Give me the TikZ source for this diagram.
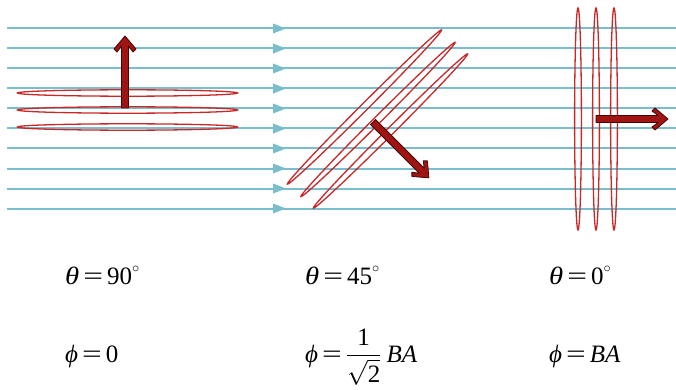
\documentclass[tikz,border=0pt]{standalone}
\usepackage{amsmath}
\usepackage{graphicx}
\usepackage{fontspec}
\setmainfont{Liberation Serif}
\definecolor{fieldblue}{RGB}{122,190,206}
\definecolor{loopred}{RGB}{200,40,40}
\definecolor{arrowred}{RGB}{160,20,20}
\definecolor{arrowedge}{RGB}{70,5,5}
\newcommand{\eqsg}{\hspace{4pt}\scalebox{1.4}[1]{=}\hspace{4pt}}
\newcommand{\degr}{\raisebox{0.45em}{\fontsize{14}{14}\selectfont$\circ$}}
\newcommand{\thet}{\scalebox{1.15}[1]{\textit{θ}}}
\newcommand{\phis}{\textit{ϕ}}
\tikzset{
  fieldline/.style={draw=fieldblue, line width=2pt},
  fieldtip/.style={fill=fieldblue, draw=none},
  loop/.style={draw=loopred, line width=1.3pt},
  eqn/.style={anchor=base west, inner sep=0pt, font=\fontsize{25}{28}\selectfont},
  barrow/.pic={
    \filldraw[fill=arrowred, draw=arrowedge, line width=0.8pt, line join=round]
      (0,-3.5) -- (#1-10,-3.5) -- (#1-16,-8) -- (#1-13,-11) -- (#1,0)
      -- (#1-13,11) -- (#1-16,8) -- (#1-10,3.5) -- (0,3.5) -- cycle;
  }
}
\begin{document}
\begin{tikzpicture}[x=1pt,y=-1pt]
\useasboundingbox (0,0) rectangle (676,390);
% field lines
\foreach \i in {0,...,9}{
  \pgfmathsetmacro{\yy}{28.5+20*\i}
  \draw[fieldline] (7,\yy) -- (676,\yy);
  \fill[fieldtip] (286,\yy) -- (273,\yy-5) -- (273,\yy+5) -- cycle;
}
% left loops (theta = 90)
\foreach \yc in {93,110,127}{
  \draw[loop] (127.5,\yc) ellipse (110 and 3.2);
}
\pic[rotate=90] at (125,108) {barrow=72};
% middle loops (theta = 45)
\foreach \cx/\cy in {364.5/107, 378/119.5, 390.5/131}{
  \draw[loop, shift={(\cx,\cy)}, rotate=45] (0,0) ellipse (109 and 3.5);
}
\pic[rotate=-45] at (373,122) {barrow=79};
% right loops (theta = 0)
\foreach \xc in {578,596,614}{
  \draw[loop] (\xc,119) ellipse (3.4 and 111);
}
\pic at (596,119) {barrow=72};
% labels
\node[eqn] (t1) at (65,284) {\thet\eqsg90\degr};
\node[eqn] (t2) at (305,284) {\thet\eqsg45\degr};
\node[eqn] (t3) at (549,284) {\thet\eqsg0\degr};
\node[eqn] (p1) at (65,362) {\phis\eqsg0};
\node[eqn] (p2) at (305,362) {\phis\eqsg$\dfrac{\text{1}}{\sqrt{\text{2}}}$\hspace{5pt}\textit{BA}};
\node[eqn] (p3) at (549,362) {\phis\eqsg\textit{BA}};
\end{tikzpicture}
\end{document}
